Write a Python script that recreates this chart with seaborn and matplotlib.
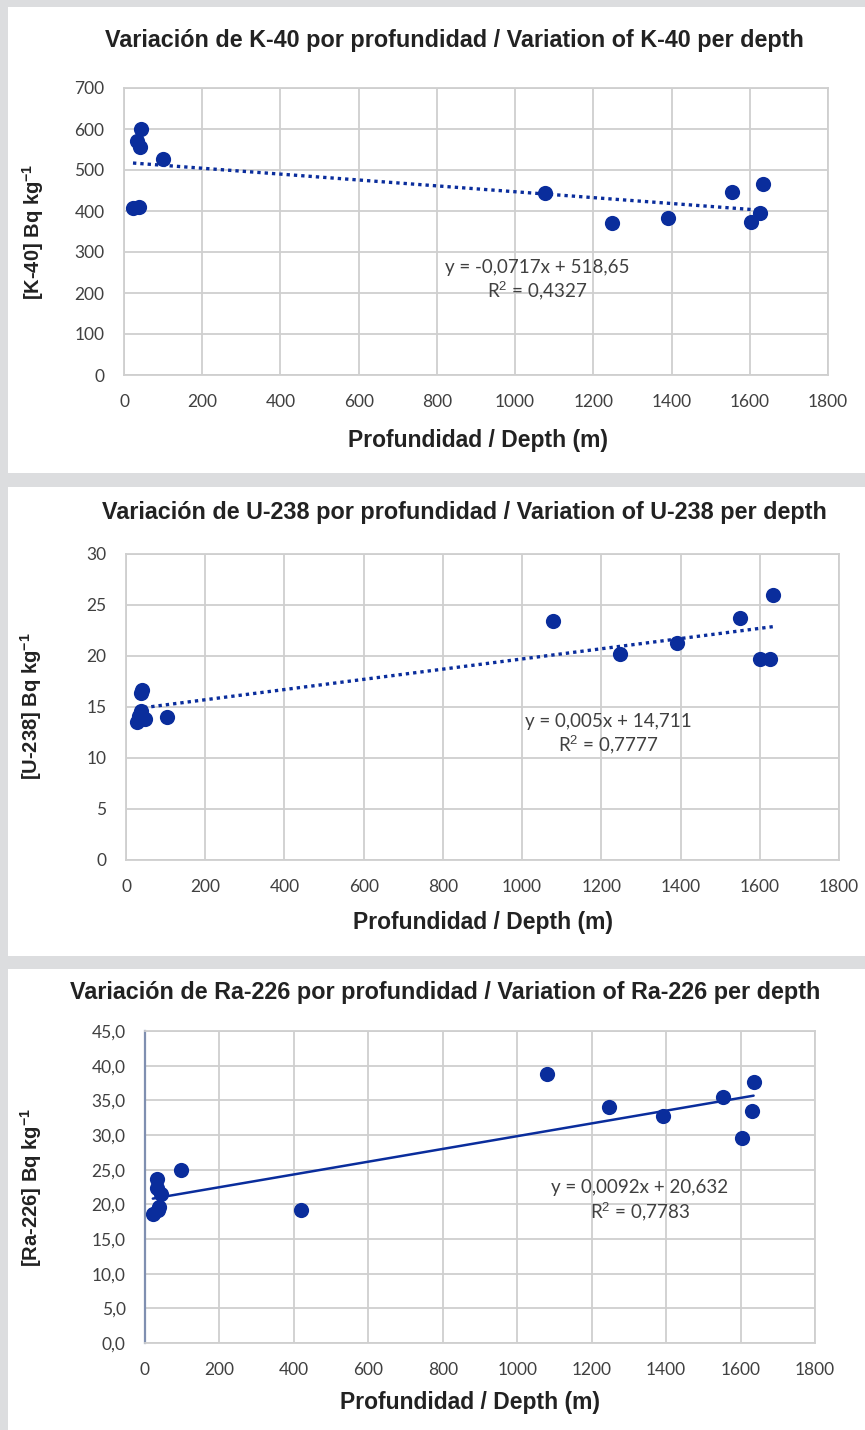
import numpy as np
import pandas as pd
import matplotlib
matplotlib.use("Agg")
import matplotlib.pyplot as plt
from matplotlib.patches import Rectangle
from matplotlib.ticker import FuncFormatter
import seaborn as sns

# data
k40_depth = [23, 38, 43, 33, 41, 100, 1077, 1249, 1391, 1555, 1635, 1627, 1604]
k40_value = [407, 410, 600, 571, 556, 527, 445, 371, 383, 446, 466, 395, 373]

u238_depth = [27, 39, 40, 39, 47, 33, 103, 1079, 1247, 1391, 1550, 1633, 1600, 1626]
u238_value = [13.5, 16.4, 16.7, 14.6, 13.8, 14.1, 14.0, 23.4, 20.2, 21.3, 23.7, 26.0, 19.7, 19.7]

ra226_depth = [21, 35, 38, 32, 32, 43, 97, 419, 1079, 1246, 1391, 1552, 1635, 1630, 1605]
ra226_value = [18.6, 19.2, 19.6, 23.6, 22.3, 21.5, 24.9, 19.2, 38.8, 34.0, 32.7, 35.5, 37.6, 33.4, 29.5]

k40_fit = (-0.0717, 518.65)
u238_fit = (0.005, 14.711)
ra226_fit = (0.0092, 20.632)

titles = ["Variación de K-40 por profundidad / Variation of K-40 per depth",
          "Variación de U-238 por profundidad / Variation of U-238 per depth",
          "Variación de Ra-226 por profundidad / Variation of Ra-226 per depth"]
ylabels = [r"[K-40] Bq kg$^{\mathbf{-1}}$", r"[U-238] Bq kg$^{\mathbf{-1}}$",
           r"[Ra-226] Bq kg$^{\mathbf{-1}}$"]
eq_texts = [("y = -0,0717x + 518,65", "R$^2$ = 0,4327"),
            ("y = 0,005x + 14,711", "R$^2$ = 0,7777"),
            ("y = 0,0092x + 20,632", "R$^2$ = 0,7783")]

sns.set_style("white")
plt.rcParams['font.family'] = ['Liberation Sans', 'DejaVu Sans']
plt.rcParams['mathtext.fontset'] = 'custom'
plt.rcParams['mathtext.bf'] = 'Liberation Sans:bold'
plt.rcParams['mathtext.rm'] = 'Liberation Sans'

W, H = 865, 1430
fig = plt.figure(figsize=(W / 100, H / 100), dpi=100)
fig.patch.set_facecolor('#dcdddf')

def px(x, y):
    return x / W, 1 - y / H

# white panel backgrounds (pixel boxes)
for top, bot in [(7, 473), (487, 956), (969, 1430)]:
    fig.patches.append(Rectangle(px(8, bot), (W - 8) / W, (bot - top) / H,
                                 transform=fig.transFigure, facecolor='white',
                                 edgecolor='none', zorder=-10))

blue = '#0a2d9c'
datasets = [(k40_depth, k40_value, k40_fit), (u238_depth, u238_value, u238_fit),
            (ra226_depth, ra226_value, ra226_fit)]
axes_px = [(124, 88, 828, 375), (126, 554, 839, 860), (145, 1031, 815, 1343)]
ylims = [(0, 700, 100), (0, 30, 5), (0, 45, 5)]
title_pos = [(454, 40), (464, 513), (445, 992)]
ylabel_pos = [(33, 232), (31, 706), (31, 1188)]
xlabel_pos = [(478, 440), (483, 922), (470, 1403)]
eq_pos = [(537, 268, 291), (608, 722, 745), (640, 1187, 1212)]

for i, (d, v, fit) in enumerate(datasets):
    l, t, r, b = axes_px[i]
    ax = fig.add_axes([l / W, 1 - b / H, (r - l) / W, (b - t) / H])
    ax.set_facecolor('white')
    df = pd.DataFrame({'depth': d, 'value': v})
    sns.scatterplot(data=df, x='depth', y='value', ax=ax, color=blue, s=120,
                    edgecolor=blue, linewidth=0, zorder=3)
    xs = np.array([min(d), max(d)])
    line = pd.DataFrame({'depth': xs, 'value': fit[0] * xs + fit[1]})
    if i < 2:
        sns.lineplot(data=line, x='depth', y='value', ax=ax, color=blue,
                     linestyle=(0, (1, 1.2)), linewidth=2.4, zorder=2)
    else:
        sns.lineplot(data=line, x='depth', y='value', ax=ax, color=blue,
                     linewidth=1.8, zorder=2)
    ax.set_xlim(0, 1800)
    lo, hi, step = ylims[i]
    ax.set_ylim(lo, hi)
    ax.set_xticks(range(0, 1801, 200))
    ax.set_yticks(np.arange(lo, hi + 0.01, step))
    if i == 2:
        ax.yaxis.set_major_formatter(FuncFormatter(lambda val, pos: f"{val:.1f}".replace('.', ',')))
    ax.grid(True, color='#cfcfcf', linewidth=1.3)
    ax.set_axisbelow(True)
    for s in ['top', 'right', 'left', 'bottom']:
        ax.spines[s].set_visible(True)
        ax.spines[s].set_color('#cfcfcf')
        ax.spines[s].set_linewidth(1.3)
    if i == 2:
        ax.spines['left'].set_color('#7f8fb0')
        ax.spines['left'].set_linewidth(1.6)
    ax.tick_params(length=0, labelsize=12.5, labelcolor='#404040')
    ax.tick_params(axis='y', pad=14)
    ax.tick_params(axis='x', pad=14)
    for lab in ax.get_xticklabels() + ax.get_yticklabels():
        lab.set_family(['Lato', 'DejaVu Sans'])
    ax.set_xlabel('')
    ax.set_ylabel('')

    x0, y0 = px(*title_pos[i])
    fig.text(x0, y0, titles[i], ha='center', va='center', fontsize=16.8,
             fontweight='bold', color='#222222')
    x0, y0 = px(*ylabel_pos[i])
    fig.text(x0, y0, ylabels[i], ha='center', va='center', rotation=90,
             fontsize=14.5, fontweight='bold', color='#222222')
    x0, y0 = px(*xlabel_pos[i])
    fig.text(x0, y0, 'Profundidad / Depth (m)', ha='center', va='center',
             fontsize=16.5, fontweight='bold', color='#222222')
    ex, ey1, ey2 = eq_pos[i]
    fig.text(*px(ex, ey1), eq_texts[i][0], ha='center', va='center',
             fontsize=13.5, color='#404040', family=['Lato', 'DejaVu Sans'])
    fig.text(*px(ex, ey2), eq_texts[i][1], ha='center', va='center',
             fontsize=13.5, color='#404040', family=['Lato', 'DejaVu Sans'])

fig.savefig('out.png', dpi=100, facecolor=fig.get_facecolor())
